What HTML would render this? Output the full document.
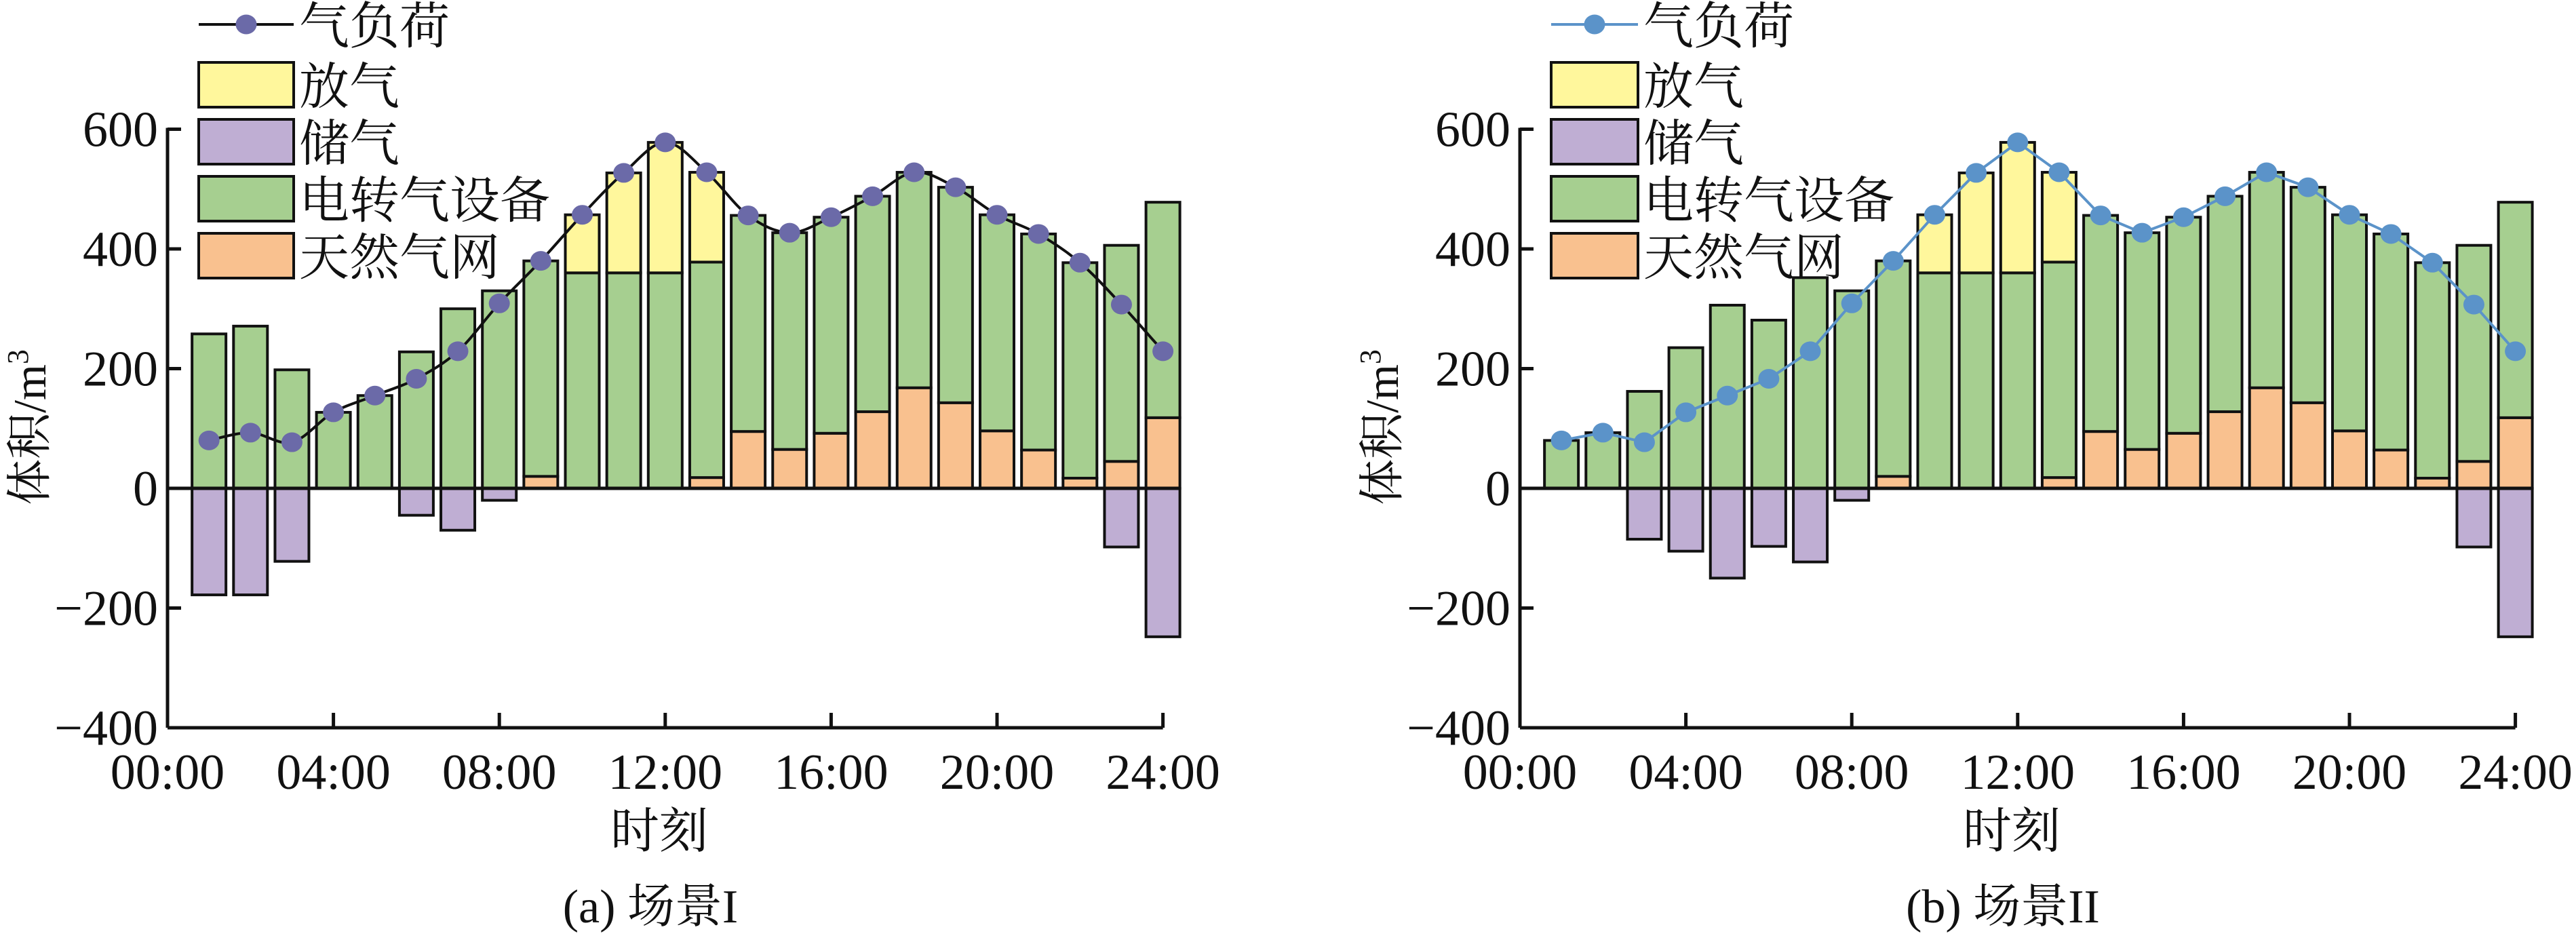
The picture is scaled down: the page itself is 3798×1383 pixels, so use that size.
<!DOCTYPE html>
<html><head><meta charset="utf-8"><style>
html,body{margin:0;padding:0;background:#fff;}
svg{display:block;}
text{font-family:"Liberation Serif","Noto Serif CJK SC",serif;fill:#111;}
</style></head><body>
<svg id="s" xmlns="http://www.w3.org/2000/svg" width="3798" height="1383" viewBox="0 0 3798 1383"></svg>
<script>
const S=document.getElementById('s');let h='';
const F=`font-family="'Liberation Serif','Noto Serif CJK SC',serif"`;
const Y=v=>720-v*0.8825;
const G='#a6cf90',YE='#fff79c',P='#bfaed3',O='#f9c18f';
const load=[80,93,77,127,155,183,229,309,380,457,527,578,528,456,427,453,488,528,503,457,425,377,307,229];
const orange=[0,0,0,0,0,0,0,0,20,0,0,0,18,95,65,92,128,168,143,96,64,17,45,118];
const greenTopL=[258,271,198,127,155,228,300,330,380,360,360,360,378,456,427,453,488,528,503,457,425,377,406,478];
const greenTopR=[80,93,162,235,306,281,352,330,380,360,360,360,378,456,427,453,488,528,503,457,425,377,406,478];
const yel=[0,0,0,0,0,0,0,0,0,457,527,578,528,0,0,0,0,0,0,0,0,0,0,0];
const purL=[-178,-178,-122,0,0,-45,-70,-20,0,0,0,0,0,0,0,0,0,0,0,0,0,0,-98,-248];
const purR=[0,0,-85,-105,-150,-97,-123,-20,0,0,0,0,0,0,0,0,0,0,0,0,0,0,-98,-248];
function rect(x,y0,y1,c){const t=Math.min(Y(y0),Y(y1)),b=Math.max(Y(y0),Y(y1));h+=`<rect x="${x}" y="${t}" width="50" height="${b-t}" fill="${c}" stroke="#111" stroke-width="4"/>`;}
function chart(ax,gt,pur,lineCol,markCol,smooth,cap,legW){
  const X=i=>ax+i*61.15;
  for(let i=0;i<24;i++){const x=X(i+1)-25;
    if(orange[i]>0)rect(x,0,orange[i],O);
    rect(x,orange[i],gt[i],G);
    if(yel[i]>0)rect(x,gt[i],yel[i],YE);
    if(pur[i]<0)rect(x,0,pur[i],P);
  }
  h+=`<line x1="${ax}" y1="${Y(-400)}" x2="${ax}" y2="${Y(600)-2}" stroke="#111" stroke-width="5"/>`;
  h+=`<line x1="${ax}" y1="${Y(-400)}" x2="${X(24)}" y2="${Y(-400)}" stroke="#111" stroke-width="5"/>`;
  h+=`<line x1="${ax}" y1="${Y(0)}" x2="${X(24)+25}" y2="${Y(0)}" stroke="#111" stroke-width="5"/>`;
  for(let v=-400;v<=600;v+=200){h+=`<line x1="${ax}" y1="${Y(v)}" x2="${ax+20}" y2="${Y(v)}" stroke="#111" stroke-width="5"/>`;
    h+=`<text ${F} x="${ax-14}" y="${Y(v)+25}" font-size="74" text-anchor="end">${v<0?'−'+(-v):v}</text>`;}
  for(let k=0;k<=24;k+=4){if(k>0)h+=`<line x1="${X(k)}" y1="${Y(-400)}" x2="${X(k)}" y2="${Y(-400)-22}" stroke="#111" stroke-width="5"/>`;
    h+=`<text ${F} x="${X(k)}" y="1163" font-size="74" text-anchor="middle">${String(k).padStart(2,'0')}:00</text>`;}
  const pts=load.map((v,i)=>[X(i+1),Y(v)]);
  let d='M'+pts[0].join(',');
  if(smooth){for(let i=0;i<pts.length-1;i++){const p0=pts[i-1]||pts[i],p1=pts[i],p2=pts[i+1],p3=pts[i+2]||p2;
    const c1=[p1[0]+(p2[0]-p0[0])/6,p1[1]+(p2[1]-p0[1])/6],c2=[p2[0]-(p3[0]-p1[0])/6,p2[1]-(p3[1]-p1[1])/6];
    d+=` C${c1} ${c2} ${p2}`;}}
  else d+=pts.slice(1).map(p=>' L'+p.join(',')).join('');
  h+=`<path d="${d}" fill="none" stroke="${lineCol}" stroke-width="4"/>`;
  pts.forEach(p=>h+=`<ellipse cx="${p[0]}" cy="${p[1]}" rx="15.5" ry="14.5" fill="${markCol}"/>`);
  const lx=ax+46,tx=lx+legW+8;
  h+=`<line x1="${lx}" y1="36" x2="${lx+legW}" y2="36" stroke="${lineCol}" stroke-width="4"/><ellipse cx="${lx+legW/2}" cy="36" rx="15.5" ry="14.5" fill="${markCol}"/>`;
  h+=`<text ${F} x="${tx}" y="64" font-size="74">气负荷</text>`;
  [[YE,'放气'],[P,'储气'],[G,'电转气设备'],[O,'天然气网']].forEach((e,i)=>{const y=92+i*84;
    h+=`<rect x="${lx}" y="${y}" width="${legW}" height="66" fill="${e[0]}" stroke="#111" stroke-width="4"/>`;
    h+=`<text ${F} x="${tx}" y="${y+61}" font-size="74">${e[1]}</text>`;});
  h+=`<text ${F} x="${ax+725}" y="1250" font-size="72" text-anchor="middle">时刻</text>`;
  h+=`<text ${F} x="${ax+712}" y="1360" font-size="70" text-anchor="middle">${cap}</text>`;
  h+=`<text ${F} transform="translate(${ax-180},630) rotate(-90)" font-size="68" text-anchor="middle">体积/m<tspan font-size="44" dy="-26">3</tspan></text>`;
}
chart(247,greenTopL,purL,'#111','#6b6aa8',true,'(a) 场景I',140);
chart(2241,greenTopR,purR,'#5b93c9','#5b93c9',false,'(b) 场景II',128);
S.innerHTML=h;
</script>
</body></html>
